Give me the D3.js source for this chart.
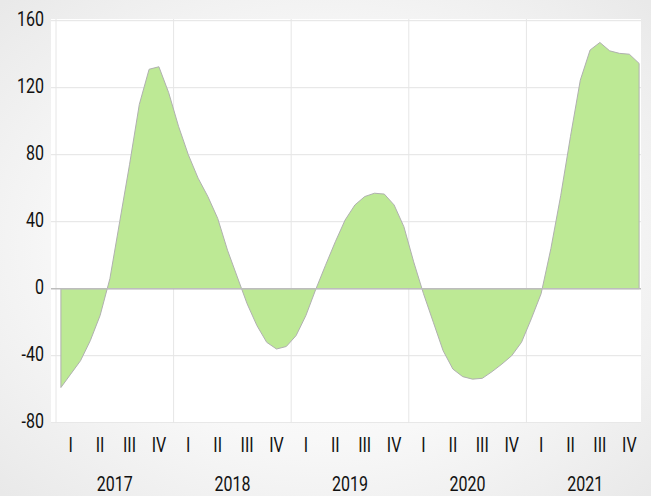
<!DOCTYPE html>
<html>
<head>
<meta charset="utf-8">
<script src="https://cdn.jsdelivr.net/npm/d3@7"></script>
<style>
  html, body { margin: 0; padding: 0; }
  svg { display: block; }
  text { font-family: "Liberation Sans Narrow", "Roboto", sans-serif; fill: #111; }
</style>
</head>
<body>
<svg width="651" height="496"></svg>
<script>
(function (d3) {
  "use strict";

  var years = ["2017", "2018", "2019", "2020", "2021"];
  var quarters = ["I", "II", "III", "IV"];
  var yTicks = [-80, -40, 0, 40, 80, 120, 160];

  // monthly values, Jan 2017 .. Dec 2021
  var values = [
    -59, -51, -43, -31, -16, 6, 40, 74, 110, 131, 132.5, 117,
    97, 80, 66, 55, 42, 23, 7, -9, -22, -32, -36, -34.5,
    -28, -16, -0.5, 14, 28, 41, 50, 55, 57, 56.5, 50, 37,
    16, -3, -20, -37, -48, -52.5, -54, -53.5, -49.5, -45, -40, -32,
    -18, -3, 24, 55.5, 91, 124.5, 142.5, 147, 142, 140.5, 140, 134.5
  ];

  var svg = d3.select("svg");
  var width = +svg.attr("width");
  var height = +svg.attr("height");

  var plot = { left: 51, right: 641, top: 19, bottom: 423 };
  var squeeze = 0.8; // narrow the text like a condensed face

  var defs = svg.append("defs");
  var grad = defs.append("radialGradient")
    .attr("id", "bg")
    .attr("cx", "50%").attr("cy", "50%").attr("r", "70%");
  grad.append("stop").attr("offset", "0%").attr("stop-color", "#ffffff");
  grad.append("stop").attr("offset", "55%").attr("stop-color", "#f8f8f8");
  grad.append("stop").attr("offset", "100%").attr("stop-color", "#e9e9e9");

  defs.append("clipPath").attr("id", "clip")
    .append("rect")
    .attr("x", plot.left)
    .attr("y", plot.top)
    .attr("width", plot.right - plot.left)
    .attr("height", plot.bottom - plot.top);

  svg.append("rect")
    .attr("width", width)
    .attr("height", height)
    .attr("fill", "url(#bg)");

  svg.append("rect")
    .attr("x", plot.left)
    .attr("y", plot.top)
    .attr("width", plot.right - plot.left)
    .attr("height", plot.bottom - plot.top)
    .attr("fill", "#ffffff");

  var x = d3.scaleBand()
    .domain(d3.range(values.length))
    .range([56, 644])
    .paddingInner(0)
    .paddingOuter(0);
  var bw = x.bandwidth();

  var y = d3.scaleLinear()
    .domain([-80, 160])
    .range([422.7, 20.7]);

  var g = svg.append("g").attr("clip-path", "url(#clip)");

  // horizontal grid
  g.selectAll(".hgrid")
    .data(yTicks.filter(function (t) { return t !== 0; }))
    .enter().append("line")
    .attr("x1", plot.left)
    .attr("x2", plot.right)
    .attr("y1", function (d) { return y(d); })
    .attr("y2", function (d) { return y(d); })
    .attr("stroke", "#e3e3e3")
    .attr("stroke-width", 1);

  // vertical grid at year boundaries
  g.selectAll(".vgrid")
    .data(years)
    .enter().append("line")
    .attr("x1", function (d, i) { return x(i * 12); })
    .attr("x2", function (d, i) { return x(i * 12); })
    .attr("y1", plot.top)
    .attr("y2", plot.bottom)
    .attr("stroke", "#e6e6e6")
    .attr("stroke-width", 1);

  var area = d3.area()
    .x(function (d, i) { return x(i) + bw / 2; })
    .y0(y(0))
    .y1(function (d) { return y(d); });

  g.append("path")
    .datum(values)
    .attr("d", area)
    .attr("fill", "#bde995")
    .attr("stroke", "#b0b0b0")
    .attr("stroke-width", 1);

  // zero line
  g.append("line")
    .attr("x1", plot.left)
    .attr("x2", plot.right)
    .attr("y1", y(0))
    .attr("y2", y(0))
    .attr("stroke", "#bdbdbd")
    .attr("stroke-width", 1.5);

  function label(sel, px, py, anchor) {
    return sel.append("text")
      .attr("transform", function (d, i) {
        return "translate(" + px(d, i) + "," + py(d, i) + ") scale(" + squeeze + ",1)";
      })
      .attr("dy", "0.36em")
      .attr("text-anchor", anchor)
      .attr("font-size", 20);
  }

  // y labels
  label(svg.selectAll(".ylab").data(yTicks).enter(),
    function () { return 44; },
    function (d) { return y(d) - 2; }, "end")
    .text(function (d) { return d; });

  // quarter labels
  var qData = [];
  years.forEach(function (yr, yi) {
    quarters.forEach(function (q, qi) {
      qData.push({ label: q, idx: yi * 12 + qi * 3 });
    });
  });

  label(svg.selectAll(".qlab").data(qData).enter(),
    function (d) { return x(d.idx) + bw * 1.5; },
    function () { return 445; }, "middle")
    .text(function (d) { return d.label; });

  // year labels
  label(svg.selectAll(".yrlab").data(years).enter(),
    function (d, i) { return x(i * 12) + bw * 6; },
    function () { return 484; }, "middle")
    .text(function (d) { return d; });
})(d3);
</script>
</body>
</html>
